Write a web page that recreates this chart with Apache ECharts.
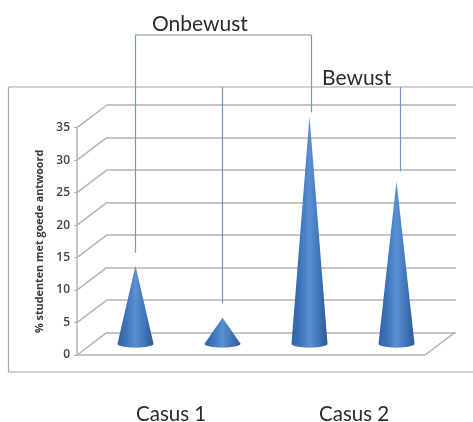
<!DOCTYPE html>
<html><head><meta charset="utf-8">
<style>html,body{margin:0;padding:0;background:#fff}#c{width:473px;height:422px}</style>
<script src="https://cdn.jsdelivr.net/npm/echarts@6/dist/echarts.min.js"></script>
</head><body><div id="c"></div>
<script>
const categories = ['A', 'B', 'C', 'D'];
const values = [12, 4, 35, 25];
const ticks = [0, 5, 10, 15, 20, 25, 30, 35];
const leaderEnds = [14, 6.2, 35.6, 26.5];

const DX = 30, DY = -22.7, RX = 18, RY = 4;
const chart = echarts.init(document.getElementById('c'));
const gridColor = '#b3b3b3', blue = '#7398c8';

function line(x1, y1, x2, y2, stroke, w) {
  return { type: 'line', silent: true, shape: { x1, y1, x2, y2 }, style: { stroke: stroke || gridColor, lineWidth: w || 1.5 } };
}
function label(text, x, y, size) {
  return { type: 'text', silent: true, x, y, style: { text, fontFamily: 'Lato', fontSize: size, fill: '#2b2b2b' } };
}

chart.setOption({
  animation: false,
  backgroundColor: '#fff',
  grid: [
    { left: 77, width: 348, top: 127.7, height: 227.3 },
    { left: 107, width: 349, top: 105, height: 227.3 }
  ],
  xAxis: [
    { type: 'category', data: categories, gridIndex: 0, axisLabel: { show: false }, axisTick: { show: false },
      axisLine: { lineStyle: { color: gridColor, width: 1.5 } } },
    { type: 'category', data: categories, gridIndex: 1, show: false }
  ],
  yAxis: [
    { type: 'value', gridIndex: 0, min: 0, max: 35, interval: 5, splitLine: { show: false },
      name: '% studenten met goede antwoord', nameLocation: 'middle', nameGap: 30, nameRotate: 90,
      nameTextStyle: { fontFamily: 'Open Sans', fontSize: 10.8, fontWeight: 'bold', color: '#3a3a3a' },
      axisLine: { show: true, lineStyle: { color: gridColor, width: 1.5 } },
      axisTick: { show: true, length: 3, lineStyle: { color: gridColor } },
      axisLabel: { margin: 7, fontFamily: 'Open Sans', fontSize: 12, fontWeight: 600, color: '#444',
        customValues: ticks } },
    { type: 'value', gridIndex: 1, min: 0, max: 35, interval: 5, axisLabel: { show: false }, axisTick: { show: false }, axisLine: { show: false },
      splitLine: { show: true, lineStyle: { color: gridColor, width: 1.5 } } }
  ],
  series: [
    {
      type: 'custom', xAxisIndex: 0, yAxisIndex: 0, z: 1, silent: true,
      coordinateSystem: 'cartesian2d', clip: false,
      data: ticks,
      renderItem(params, api) {
        const p = api.coord([0, api.value(0)]);
        const x0 = params.coordSys.x;
        const els = [line(x0, p[1], x0 + DX, p[1] + DY)];
        if (api.value(0) === 0) {
          const xr = x0 + params.coordSys.width;
          els.push(line(xr, p[1], xr + DX, p[1] + DY));
        }
        return { type: 'group', children: els };
      },
      encode: { y: 0 }
    },
    {
      type: 'custom', xAxisIndex: 0, yAxisIndex: 0, z: 3, silent: true, clip: false,
      data: values.map((v, i) => [i, v]),
      encode: { x: 0, y: 1 },
      renderItem(params, api) {
        const tip = api.coord([api.value(0), api.value(1)]);
        const base = api.coord([api.value(0), 0]);
        const cx = tip[0] + DX / 2, off = DY / 2;
        const pts = [[cx, tip[1] + off]];
        for (let k = 0; k <= 24; k++) {
          const a = Math.PI * k / 24;
          pts.push([cx + RX * Math.cos(a), base[1] + off + RY * Math.sin(a)]);
        }
        return {
          type: 'polygon', shape: { points: pts },
          style: {
            fill: new echarts.graphic.LinearGradient(0, 0, 1, 0, [
              { offset: 0, color: '#2f62a6' }, { offset: 0.25, color: '#3f75ba' },
              { offset: 0.5, color: '#5a90d2' }, { offset: 0.8, color: '#3c70b2' },
              { offset: 1, color: '#2c5a98' }
            ])
          }
        };
      }
    },
    {
      type: 'custom', xAxisIndex: 0, yAxisIndex: 0, z: 2, silent: true, clip: false,
      data: leaderEnds.map((v, i) => [i, v]),
      encode: { x: 0, y: 1 },
      renderItem(params, api) {
        const e = api.coord([api.value(0), api.value(1)]);
        const i = api.value(0);
        const x = e[0] + DX / 2 + (i >= 2 ? 2 + (i === 3 ? 2 : 0) : 0);
        const top = i % 2 === 0 ? 35 : 87;
        return line(x, top, x, e[1] + DY / 2, blue, 1.2);
      }
    }
  ],
  graphic: [
    { type: 'group', silent: true, children: [
      line(8.5, 87, 473, 87, '#a6a6a6', 1.2),
      line(8.5, 372, 473, 372, '#a6a6a6', 1.2),
      line(8.5, 87, 8.5, 372, '#a6a6a6', 1.2)
    ] },
    line(135, 35, 311, 35, '#8090a8', 1.2),
    label('Onbewust', 152, 14, 21),
    label('Bewust', 322, 68, 21),
    label('Casus 1', 136, 404, 20.5),
    label('Casus 2', 319, 404, 20.5)
  ]
});
</script></body></html>
